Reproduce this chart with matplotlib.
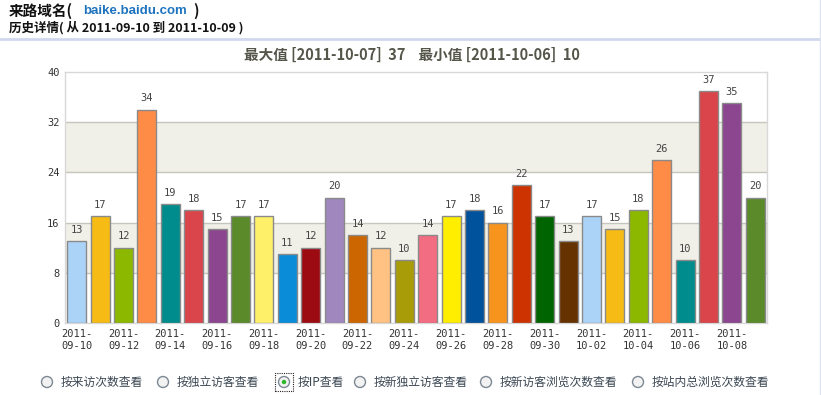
import matplotlib
matplotlib.use("Agg")
import matplotlib.pyplot as plt
from matplotlib.patches import Rectangle, Ellipse
import numpy as np

plt.rcParams['font.family'] = ['Noto Sans CJK SC', 'DejaVu Sans']

dates = ["2011-09-10", "2011-09-11", "2011-09-12", "2011-09-13", "2011-09-14", "2011-09-15",
         "2011-09-16", "2011-09-17", "2011-09-18", "2011-09-19", "2011-09-20", "2011-09-21",
         "2011-09-22", "2011-09-23", "2011-09-24", "2011-09-25", "2011-09-26", "2011-09-27",
         "2011-09-28", "2011-09-29", "2011-09-30", "2011-10-01", "2011-10-02", "2011-10-03",
         "2011-10-04", "2011-10-05", "2011-10-06", "2011-10-07", "2011-10-08", "2011-10-09"]
values = [13, 17, 12, 34, 19, 18, 15, 17, 17, 11, 12, 20, 14, 12, 10, 14, 17, 18, 16, 22,
          17, 13, 17, 15, 18, 26, 10, 37, 35, 20]
palette = ["#ABD3F7", "#F6BC15", "#8CB800", "#FF8C46", "#008C8C", "#D9454A", "#8C468F",
           "#5A8A2A", "#FFF06A", "#0A8CD8", "#9C0A12", "#A087BE", "#CC6600", "#FFC283",
           "#A89C08", "#F26C82", "#FFEE00", "#00529C", "#F7941E", "#CC3300", "#006400",
           "#663300"]
y_ticks = [0, 8, 16, 24, 32, 40]
radio_labels = ["按来访次数查看", "按独立访客查看", "按IP查看", "按新独立访客查看",
                "按新访客浏览次数查看", "按站内总浏览次数查看"]
selected = 2

W, H = 821, 395
fig = plt.figure(figsize=(W / 100, H / 100), dpi=100)
fig.patch.set_facecolor("white")

def fx(px):
    return px / W

def fy(py):
    return 1 - py / H

# Header
fig.text(fx(9), fy(11), "来路域名(", fontsize=10.5, fontweight="bold", color="#111111",
         va="center", ha="left")
fig.text(fx(83), fy(11), "baike.baidu.com", fontsize=9.5, fontweight="bold", color="#1E73BE",
         va="center", ha="left", family=["Liberation Sans"])
fig.text(fx(193), fy(11), ")", fontsize=10.5, fontweight="bold", color="#111111",
         va="center", ha="left")
fig.text(fx(9), fy(28), "历史详情( 从 2011-09-10 到 2011-10-09 )", fontsize=9,
         fontweight="bold", color="#111111", va="center", ha="left")
fig.add_artist(plt.Line2D([0, fx(819)], [fy(39), fy(39)], color="#D0D8EE", lw=2,
                          transform=fig.transFigure))
fig.add_artist(plt.Line2D([fx(819.5), fx(819.5)], [0, 1], color="#DDE3F0", lw=1,
                          transform=fig.transFigure))

# Chart title
fig.text(fx(412), fy(55), "最大值 [2011-10-07]  37    最小值 [2011-10-06]  10",
         fontsize=10.5, fontweight="bold", color="#55554A", va="center", ha="center")

left, right, top, bottom = 65, 767, 72, 323
ax = fig.add_axes([fx(left), fy(bottom), fx(right - left), (bottom - top) / H])
n = len(values)
x = np.arange(n)
ax.set_xlim(-0.5, n - 0.5)
ax.set_ylim(0, 40)

# alternating bands
for i in range(len(y_ticks) - 1):
    if i % 2 == 1:
        ax.axhspan(y_ticks[i], y_ticks[i + 1], color="#F0F0E8", zorder=0, lw=0)
for t in y_ticks[1:-1]:
    ax.axhline(t, color="#C6C6BE", lw=1, zorder=1)

colors = [palette[i % len(palette)] for i in range(n)]
ax.bar(x, values, width=0.81, color=colors, edgecolor="#8A8A8A", linewidth=1, zorder=3)
for xi, v in zip(x, values):
    ax.text(xi, v + 1.0, str(v), ha="center", va="bottom", fontsize=7.5,
            color="#444444", family=["DejaVu Sans Mono"], zorder=4)

ax.set_yticks(y_ticks)
ax.set_yticklabels([str(t) for t in y_ticks], fontsize=7.5, color="#333333",
                   family=["DejaVu Sans Mono"])
ax.set_xticks(x[::2])
ax.set_xticklabels([d[:5] + "\n" + d[5:] for d in dates[::2]], fontsize=7.5,
                   color="#333333", family=["DejaVu Sans Mono"], linespacing=1.35)
ax.tick_params(length=0, pad=4)
for s in ax.spines.values():
    s.set_color("#D8D8D8")
    s.set_linewidth(1)

# Radio buttons
circle_x = [47, 163, 284, 360, 486, 638]
ry = 382
for i, (cx, lab) in enumerate(zip(circle_x, radio_labels)):
    e = Ellipse((fx(cx), fy(ry)), 11 / W, 11 / H, transform=fig.transFigure,
                facecolor="#F2F2F2", edgecolor="#7C8894", lw=1)
    fig.add_artist(e)
    if i == selected:
        d = Ellipse((fx(cx), fy(ry)), 4.5 / W, 4.5 / H, transform=fig.transFigure,
                    facecolor="#2DB82D", edgecolor="none")
        fig.add_artist(d)
        r = Rectangle((fx(cx - 9), fy(ry + 9)), 18 / W, 18 / H, transform=fig.transFigure,
                      fill=False, edgecolor="#222222", lw=0.8, linestyle=(0, (1, 1)))
        fig.add_artist(r)
    fig.text(fx(cx + 14), fy(ry), lab, fontsize=8.5, color="#3A4652", va="center",
             ha="left")

fig.savefig("out.png", dpi=100, facecolor="white")
